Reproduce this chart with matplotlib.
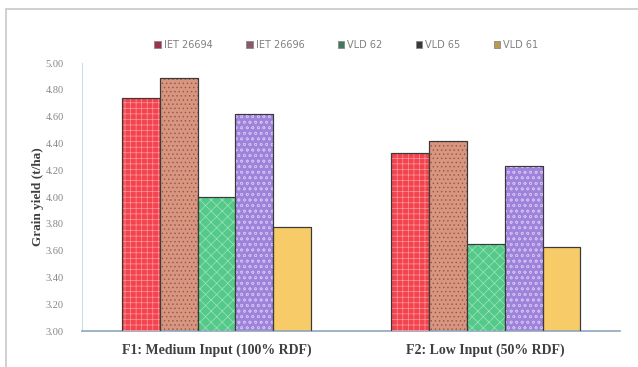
import numpy as np
import matplotlib as mp
from matplotlib import pyplot as plt
from matplotlib.patches import Rectangle, Patch

# grain yield (t/ha) per variety under each fertility level
levels = ['F1: Medium Input (100% RDF)', 'F2: Low Input (50% RDF)']
varieties = ['IET 26694', 'IET 26696', 'VLD 62', 'VLD 65', 'VLD 61']
yield_f1 = [4.74, 4.89, 4.00, 4.62, 3.78]
yield_f2 = [4.33, 4.42, 3.65, 4.23, 3.63]

face_colors = ['#F2444F', '#D99580', '#55C98A', '#9F82DA', '#F7CB67']
hatch_colors = ['#FF959C', '#8A5A48', '#9DE5BB', '#CDBDF2', '#F7CB67']
hatches = ['+++', '....', 'xxx', 'ooo', None]
legend_colors = ['#A0334A', '#8A5A6A', '#3F7A5C', '#3A3A3A', '#B89A50']

plt.rcParams.update({'font.family': 'serif',
                     'font.serif': ['Liberation Serif', 'DejaVu Serif'],
                     'hatch.linewidth': 0.5})

fig = plt.figure(figsize=(6.38, 3.67), dpi=100)
ax = fig.add_axes([0.1285, 0.098, 0.8435, 0.730])

# chart area frame
fig.patches.append(Rectangle((6 / 638, -0.02), 1.0, 1 - 9 / 367 + 0.02,
                             transform=fig.transFigure, fill=False,
                             edgecolor='#C8C8C8', linewidth=1.2))

x = np.arange(len(levels))
width = 0.141
data = np.array([yield_f1, yield_f2])

for i, name in enumerate(varieties):
    pos = x + (i - 2) * width
    ax.bar(pos, data[:, i], width=width, bottom=0,
           color=face_colors[i], edgecolor='#3A3A3A', linewidth=0.8,
           zorder=2)
    if hatches[i]:
        ax.bar(pos, data[:, i], width=width, bottom=0, color='none',
               edgecolor=hatch_colors[i], hatch=hatches[i], linewidth=0,
               zorder=3)
    ax.bar(pos, data[:, i], width=width, bottom=0, color='none',
           edgecolor='#3A3A3A', linewidth=0.8, zorder=4)

ax.set_xlim(-0.5, 1.5)
ax.set_ylim(3.0, 5.0)
ax.set_yticks(np.arange(3.0, 5.01, 0.2))
ax.yaxis.set_major_formatter(mp.ticker.FormatStrFormatter('%.2f'))
ax.set_xticks(x)
ax.set_xticklabels(levels, fontsize=10, fontweight='bold', color='#404040')
ax.tick_params(axis='x', length=0, pad=9)
ax.tick_params(axis='y', length=0, pad=13, labelsize=7.5,
               labelcolor='#858585')

ax.set_ylabel('Grain yield (t/ha)', fontsize=9.5, fontweight='bold',
              color='#404040', labelpad=1)

for side in ['top', 'right']:
    ax.spines[side].set_visible(False)
ax.spines['left'].set_color('#C9DCEA')
ax.spines['bottom'].set_color('#8FA6BC')
ax.spines['bottom'].set_linewidth(1.2)

handles = [Patch(facecolor=c, edgecolor='#888888', linewidth=0.6)
           for c in legend_colors]
fig.legend(handles, varieties, loc='center', bbox_to_anchor=(0.543, 0.877),
           ncol=5, frameon=False, handlelength=0.7,
           handleheight=0.7, handletextpad=0.3, columnspacing=3.4,
           labelcolor='#808080', prop={'family': 'sans-serif', 'size': 7})

fig.savefig('out.png', dpi=100)
